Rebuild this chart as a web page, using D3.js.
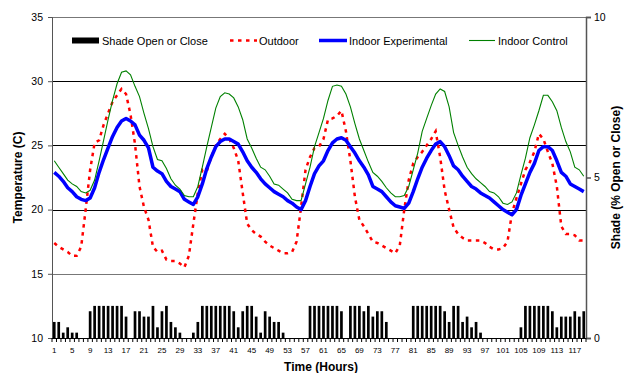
<!DOCTYPE html>
<html>
<head>
<meta charset="utf-8">
<script src="https://d3js.org/d3.v7.min.js"></script>
<style>
body { margin: 0; background: #fff; }
svg { display: block; font-family: "Liberation Sans", Arial, sans-serif; }
</style>
</head>
<body>
<svg width="624" height="373"></svg>
<script>

// hours 1..119
var hours = d3.range(1, 120);

// shade, in sixths of full
var shade = [3,3,1,2,1,1,0,0,5,6, 6,6,6,6,6,6,4,0,5,5, 4,4,6,2,5,6,3,2,1,0,
	0,1,3,6,6,6,6,6,6,6, 5,2,5,6,6,4,1,5,4,3, 3,1,0,0,0,0,0,6,6,6,
	6,6,6,6,5,0,6,6,6,5, 6,4,5,5,3,0,0,0,0,0, 6,6,6,6,6,6,6,5,3,6,
	6,3,4,2,3,1,0,0,0,0, 0,0,0,0,2,6,6,6,6,6, 6,5,2,4,4,4,5,4,5].map(function(v) { return v / 6; });

var outdoor = [17.4,17.1,16.9,16.7,16.4,16.4,17.1,20.0,23.1,25.2,
	25.4,26.6,27.5,28.4,28.9,29.4,29.0,27.4,25.1,21.8,
	20.2,19.2,17.1,16.7,16.8,16.1,16.0,16.0,15.8,15.5,
	16.4,18.9,21.3,23.1,23.0,24.1,25.0,25.5,25.9,25.5,
	24.8,23.8,21.3,18.9,18.4,18.1,17.9,17.5,17.2,17.0,
	16.8,16.6,16.6,16.7,17.5,20.2,23.1,24.1,24.8,24.9,
	25.5,27.0,27.1,27.3,27.7,26.1,23.8,21.0,19.2,18.7,
	18.1,17.5,17.4,17.2,17.0,16.8,16.6,17.2,20.0,22.3,
	23.6,24.1,24.5,25.0,25.5,26.1,24.1,21.5,20.0,18.6,
	18.1,17.8,17.6,17.6,17.6,17.6,17.4,17.1,16.9,16.9,
	17.0,17.5,19.7,20.9,22.0,23.1,23.7,24.5,25.9,25.5,
	24.5,23.6,21.8,18.7,18.1,18.1,18.0,17.6,17.6];

var indoorExp = [22.9,22.6,22.2,21.7,21.4,21.0,20.8,20.7,20.9,21.7,
	22.9,23.9,24.8,25.7,26.4,26.9,27.1,26.9,26.6,25.8,
	25.4,24.8,23.3,23.0,22.8,22.2,21.8,21.6,21.4,20.8,
	20.6,20.4,21.0,22.0,23.2,24.1,24.9,25.3,25.5,25.5,
	25.3,25.1,24.5,23.8,23.3,22.9,22.4,22.0,21.7,21.4,
	21.2,21.0,20.7,20.5,20.2,20.0,20.7,21.8,22.8,23.4,
	23.8,24.6,25.2,25.5,25.6,25.4,24.9,24.4,23.8,23.3,
	22.7,21.8,21.6,21.4,21.0,20.6,20.3,20.2,20.1,20.5,
	21.4,22.4,23.3,24.0,24.6,25.1,25.3,24.9,24.2,23.4,
	23.1,22.6,22.2,21.8,21.6,21.3,21.1,20.9,20.6,20.3,
	20.0,19.8,19.6,20.0,21.1,22.0,22.9,23.6,24.6,24.9,
	24.9,24.6,23.8,22.9,22.6,22.0,21.8,21.6,21.4];

var indoorCtrl = [23.8,23.3,22.8,22.3,22.0,21.8,21.4,21.3,21.5,22.3,
	23.8,25.4,27.0,28.5,29.8,30.7,30.8,30.5,29.6,28.8,
	27.5,26.3,24.9,23.9,23.8,23.2,22.4,21.9,21.6,21.1,
	21.0,21.0,21.8,23.3,24.9,26.4,27.9,28.8,29.1,29.0,
	28.7,28.0,27.0,25.5,24.8,24.0,23.3,23.1,22.6,22.0,
	21.9,21.6,21.3,20.8,20.7,20.7,22.0,23.3,24.9,26.0,
	27.1,28.5,29.6,29.7,29.6,29.0,28.0,26.7,25.5,24.6,
	23.7,22.9,22.6,22.2,21.7,21.3,21.0,21.0,21.1,21.8,
	23.1,24.4,26.1,27.1,28.1,29.0,29.4,29.2,28.0,26.0,
	25.0,24.1,23.3,22.8,22.4,22.1,21.8,21.4,21.3,21.0,
	20.5,20.4,20.6,21.3,22.7,24.0,25.6,26.6,27.7,28.9,
	28.9,28.4,27.7,26.4,25.3,24.5,23.3,23.1,22.6];

var tempTicks = [10, 15, 20, 25, 30, 35];
var shadeTicks = [0, 5, 10];

var svg = d3.select("svg"),
	pL = 52, pR = 586, pT = 17, pB = 338;

var x = d3.scaleBand().domain(hours).range([pL, pR]).padding(0),
	y = d3.scaleLinear().domain([10, 35]).range([pB, pT]),
	y2 = d3.scaleLinear().domain([0, 10]).range([pB, pT]);

var cx = function(h) { return x(h) + x.bandwidth() / 2; };

//gridlines
svg.append("g").selectAll("line").data(tempTicks.filter(function(t) { return t > 10; }))
	.enter().append("line")
	.attr("x1", pL).attr("x2", pR)
	.attr("y1", function(t) { return Math.round(y(t)) + 0.5; })
	.attr("y2", function(t) { return Math.round(y(t)) + 0.5; })
	.attr("stroke", function(t) { return (t == 35 || t == 15) ? "#777" : "#000"; })
	.attr("stroke-width", 1);

//shade bars
var bw = x.bandwidth() * 0.6;
svg.append("g").selectAll("rect").data(hours)
	.enter().append("rect")
	.attr("x", function(h) { return cx(h) - bw / 2; })
	.attr("width", bw)
	.attr("y", function(h, i) { return y2(shade[i]); })
	.attr("height", function(h, i) { return pB - y2(shade[i]); })
	.attr("fill", "#000");

//lines
var line = function(vals) {
	return d3.line().x(function(h) { return cx(h); })
		.y(function(h, i) { return y(vals[i]); })(hours);
};
svg.append("path").attr("d", line(outdoor)).attr("fill", "none")
	.attr("stroke", "#ff0000").attr("stroke-width", 2.5).attr("stroke-dasharray", "3.5,4.5");
svg.append("path").attr("d", line(indoorExp)).attr("fill", "none")
	.attr("stroke", "#0000ff").attr("stroke-width", 3.5).attr("stroke-linejoin", "round");
svg.append("path").attr("d", line(indoorCtrl)).attr("fill", "none")
	.attr("stroke", "#008000").attr("stroke-width", 1.1);

//left axis
var ax = svg.append("g").attr("transform", "translate(" + pL + ",0)")
	.call(d3.axisLeft(y).tickValues(tempTicks).tickSize(4).tickPadding(5));
ax.selectAll("text").attr("font-size", 10.5).attr("fill", "#000");
ax.attr("font-family", null);
ax.selectAll("line,path").attr("stroke", "#555");

//right axis
var ax2 = svg.append("g").attr("transform", "translate(" + pR + ",0)")
	.call(d3.axisRight(y2).tickValues(shadeTicks).tickSize(5).tickPadding(3));
ax2.selectAll("text").attr("font-size", 10.5).attr("fill", "#000");
ax2.attr("font-family", null);
ax2.selectAll("line,path").attr("stroke", "#555").attr("stroke-width", 1.5);

//bottom axis: ticks between every category, labels every 4
var xb = svg.append("g");
xb.append("line").attr("x1", pL).attr("x2", pR)
	.attr("y1", pB + 0.5).attr("y2", pB + 0.5).attr("stroke", "#000");
xb.selectAll("line.tk").data(hours.concat([null]))
	.enter().append("line").attr("class", "tk")
	.attr("x1", function(h) { return h === null ? pR : x(h); })
	.attr("x2", function(h) { return h === null ? pR : x(h); })
	.attr("y1", pB).attr("y2", pB + 4).attr("stroke", "#000");
xb.selectAll("text").data(hours.filter(function(h) { return (h - 1) % 4 == 0; }))
	.enter().append("text")
	.attr("x", cx).attr("y", pB + 15)
	.attr("text-anchor", "middle").attr("font-size", 8)
	.text(function(h) { return h; });

//axis titles
svg.append("text").attr("transform", "translate(22," + (pT + pB) / 2 + ") rotate(-90)")
	.attr("text-anchor", "middle").attr("font-size", 12).attr("font-weight", "bold")
	.text("Temperature (C)");
svg.append("text").attr("transform", "translate(620," + (pT + pB) / 2 + ") rotate(-90)")
	.attr("text-anchor", "middle").attr("font-size", 12).attr("font-weight", "bold")
	.text("Shade (% Open or Close)");
svg.append("text").attr("x", 321).attr("y", 371)
	.attr("text-anchor", "middle").attr("font-size", 12).attr("font-weight", "bold")
	.text("Time (Hours)");

//legend
var lg = svg.append("g").attr("font-size", 11);
lg.append("rect").attr("x", 72).attr("y", 37.5).attr("width", 27).attr("height", 6).attr("fill", "#000");
lg.append("text").attr("x", 102).attr("y", 44.5).text("Shade Open or Close");
lg.append("line").attr("x1", 230).attr("x2", 257).attr("y1", 40.5).attr("y2", 40.5)
	.attr("stroke", "#ff0000").attr("stroke-width", 2.5).attr("stroke-dasharray", "3.5,4.5");
lg.append("text").attr("x", 259).attr("y", 44.5).text("Outdoor");
lg.append("line").attr("x1", 319).attr("x2", 347).attr("y1", 40.5).attr("y2", 40.5)
	.attr("stroke", "#0000ff").attr("stroke-width", 3.5);
lg.append("text").attr("x", 349).attr("y", 44.5).text("Indoor Experimental");
lg.append("line").attr("x1", 469).attr("x2", 495).attr("y1", 40.5).attr("y2", 40.5)
	.attr("stroke", "#008000").attr("stroke-width", 1.1);
lg.append("text").attr("x", 498).attr("y", 44.5).text("Indoor Control");

</script>
</body>
</html>
